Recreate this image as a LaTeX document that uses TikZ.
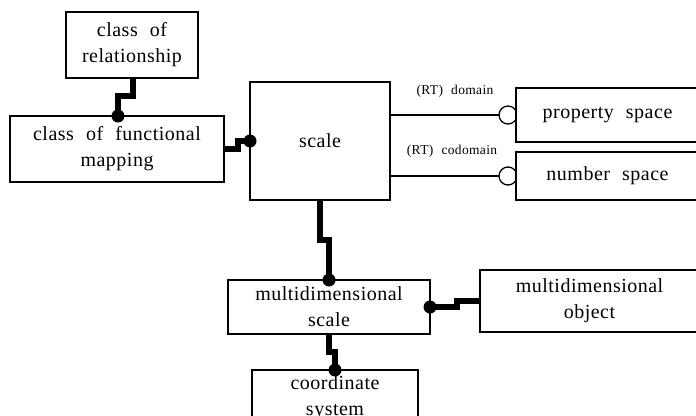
\documentclass[tikz,border=0pt]{standalone}
\usepackage{fontspec}
\setmainfont{Liberation Serif}[LetterSpace=2.5, WordSpace=2.2]
\usetikzlibrary{backgrounds}
\begin{document}
\begin{tikzpicture}[x=1pt,y=-1pt,
  box/.style={draw, line width=1.4pt, fill=white, inner sep=0pt, outer sep=0pt, align=center, font=\fontsize{20}{26}\selectfont},
  link/.style={line width=5.5pt},
  thinlink/.style={line width=1.3pt},
  dot/.style={circle, fill=black, inner sep=0pt, minimum size=13pt},
  ring/.style={circle, draw, line width=1.3pt, fill=white, inner sep=0pt, minimum size=18pt},
  lbl/.style={font=\fontsize{13.5}{15}\selectfont, inner sep=0pt}]
\useasboundingbox (0,0) rectangle (696,415);
% boxes
\node[box, minimum width=132pt, minimum height=66pt] (rel) at (132,45) {class of\\relationship};
\node[box, minimum width=214pt, minimum height=66pt] (cfm) at (117,149) {class of functional\\mapping};
\node[box, minimum width=140pt, minimum height=118pt] (scale) at (320,141) {scale};
\node[box, minimum width=183pt, minimum height=54pt] (ps) at (607.5,115) {property space};
\node[box, minimum width=183pt, minimum height=48pt] (ns) at (607.5,176) {number space};
\node[box, minimum width=202pt, minimum height=54pt] (mds) at (329,307) {multidimensional\\scale};
\node[box, minimum width=219pt, minimum height=62pt] (mdo) at (589.5,301) {multidimensional\\object};
\node[box, minimum width=166pt, minimum height=56pt] (cs) at (335,398) {coordinate\\system};
% labels
\node[lbl] (dl) at (455,91) {(RT) domain};
\node[lbl] (cl) at (452,151) {(RT) codomain};
% connectors
\begin{pgfonlayer}{background}
  \draw[link] ([xshift=1pt]rel.south) |- (118,96) -- ([xshift=1pt]cfm.north);
  \draw[link] (cfm.east) -- (238,149) |- (scale.west);
  \draw[link] (scale.south) |- (329,240) -- (mds.north);
  \draw[link] (mds.south) |- (335,352) -- (cs.north);
  \draw[link] (mds.east) -- (457,307) |- (mdo.west);
  \draw[thinlink] (scale.east |- ps.west) -- (ps.west);
  \draw[thinlink] (scale.east |- ns.west) -- (ns.west);
  \node[ring] (r1) at ([xshift=-8pt]ps.west) {};
  \node[ring] (r2) at ([xshift=-8pt]ns.west) {};
\end{pgfonlayer}
% dots
\node[dot] (d1) at ([xshift=1pt]cfm.north) {};
\node[dot] (d2) at (scale.west) {};
\node[dot] (d3) at (mds.north) {};
\node[dot] (d4) at (cs.north) {};
\node[dot] (d5) at (mds.east) {};
\end{tikzpicture}
\end{document}
